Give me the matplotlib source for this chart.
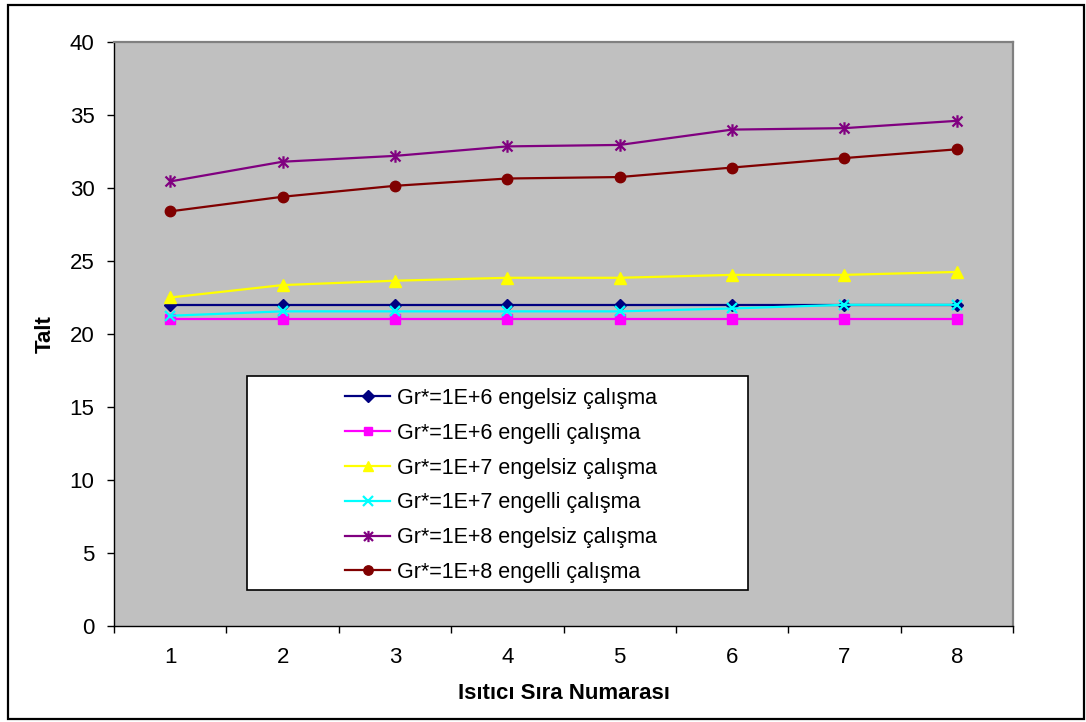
import matplotlib
matplotlib.use("Agg")
import matplotlib.pyplot as plt
from matplotlib.path import Path
from matplotlib.patches import Rectangle
from matplotlib.ticker import FixedLocator, NullFormatter

plt.rcParams['font.family'] = ['Liberation Sans', 'DejaVu Sans']

heaters = [1, 2, 3, 4, 5, 6, 7, 8]
labels = [
    "Gr*=1E+6 engelsiz çalışma",
    "Gr*=1E+6 engelli çalışma",
    "Gr*=1E+7 engelsiz çalışma",
    "Gr*=1E+7 engelli çalışma",
    "Gr*=1E+8 engelsiz çalışma",
    "Gr*=1E+8 engelli çalışma",
]
gr6_free = [22.0, 22.0, 22.0, 22.0, 22.0, 22.0, 22.0, 22.0]
gr6_obst = [21.0, 21.0, 21.0, 21.0, 21.0, 21.0, 21.0, 21.0]
gr7_free = [22.5, 23.35, 23.65, 23.85, 23.85, 24.05, 24.05, 24.25]
gr7_obst = [21.25, 21.55, 21.55, 21.55, 21.55, 21.75, 22.0, 22.0]
gr8_free = [30.45, 31.8, 32.2, 32.85, 32.95, 34.0, 34.1, 34.6]
gr8_obst = [28.4, 29.4, 30.15, 30.65, 30.75, 31.4, 32.05, 32.65]

series = [gr6_free, gr6_obst, gr7_free, gr7_obst, gr8_free, gr8_obst]
colors = ["#000080", "#FF00FF", "#FFFF00", "#00FFFF", "#800080", "#800000"]

star = Path([(-1, -1), (1, 1), (-1, 1), (1, -1), (0, -1.25), (0, 1.25)],
            [Path.MOVETO, Path.LINETO, Path.MOVETO, Path.LINETO, Path.MOVETO, Path.LINETO])
markers = ["D", "s", "^", "x", star, "o"]
msizes = [6.5, 6.5, 8.5, 7.5, 9.0, 7.5]

W, H = 1086, 722
fig = plt.figure(figsize=(W / 100, H / 100), dpi=100)
fig.patch.set_facecolor("white")

# outer chart border
fig.patches.append(Rectangle((8 / W, 1 - 719 / H), (1084 - 8) / W, (719 - 5) / H,
                             transform=fig.transFigure, fill=False,
                             edgecolor="black", linewidth=1.6))

l, r, t, b = 114, 1013, 42, 626
ax = fig.add_axes([l / W, 1 - b / H, (r - l) / W, (b - t) / H])
ax.set_facecolor("#C0C0C0")

for ys, c, m, ms in zip(series, colors, markers, msizes):
    mew = 1.6 if (m == "x" or isinstance(m, Path)) else 1.0
    ax.plot(heaters, ys, color=c, marker=m, markersize=ms, linewidth=1.6,
            markerfacecolor=c, markeredgecolor=c, markeredgewidth=mew, clip_on=False)

ax.set_xlim(0.5, 8.5)
ax.set_ylim(0, 40)
ax.set_yticks(range(0, 41, 5))
ax.set_xticks(heaters)
ax.xaxis.set_minor_locator(FixedLocator([i + 0.5 for i in range(0, 9)]))
ax.xaxis.set_minor_formatter(NullFormatter())
ax.tick_params(axis="x", which="major", length=0, pad=15, labelsize=16)
ax.tick_params(axis="x", which="minor", length=5, width=1, color="black", direction="out")
ax.tick_params(axis="y", which="major", length=5, width=1, color="black", direction="out",
               pad=9, labelsize=16)

for s in ["left", "bottom"]:
    ax.spines[s].set_color("black")
    ax.spines[s].set_linewidth(1.0)
for s in ["top", "right"]:
    ax.spines[s].set_color("#808080")
    ax.spines[s].set_linewidth(1.6)

ax.set_xlabel("Isıtıcı Sıra Numarası", fontsize=16, fontweight="bold", labelpad=11)
ax.set_ylabel("Talt", fontsize=16, fontweight="bold", labelpad=10)

# legend box
lx0, lx1, ly0, ly1 = 247, 748, 376, 590
def ax_x(px):
    return (px - l) / (r - l)
def ax_y(py):
    return (b - py) / (b - t)
ax.add_patch(Rectangle((ax_x(lx0), ax_y(ly1)), ax_x(lx1) - ax_x(lx0), ax_y(ly0) - ax_y(ly1),
                       transform=ax.transAxes, facecolor="white", edgecolor="black",
                       linewidth=1.2, zorder=5))
leg = ax.legend(labels, loc="upper left", bbox_to_anchor=(ax_x(345), ax_y(388)),
                frameon=False, fontsize=15.5, handlelength=2.1, handletextpad=0.3,
                labelspacing=0.64, borderpad=0, borderaxespad=0, markerscale=0.9)
leg.set_zorder(6)

fig.savefig("out.png", dpi=100, facecolor="white")
